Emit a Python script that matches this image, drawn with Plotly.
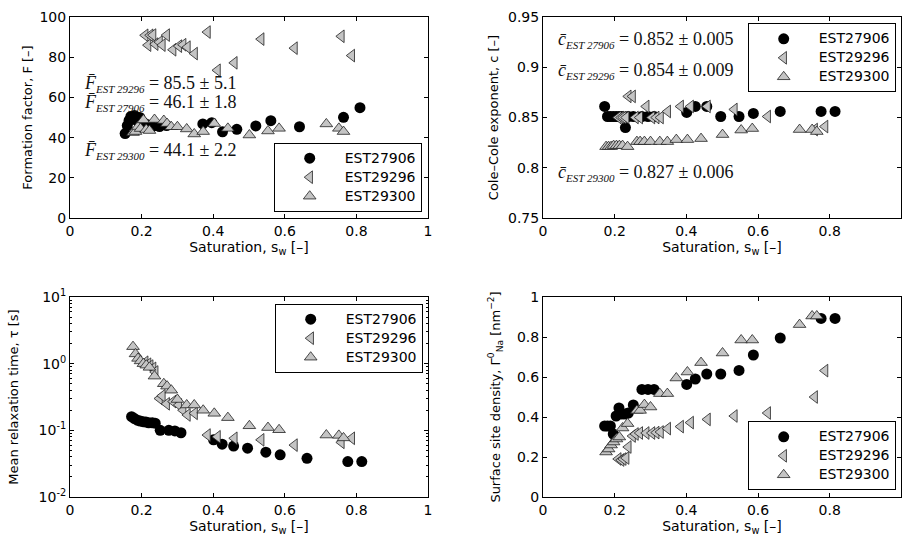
import plotly.graph_objects as go

# ---------------- data ----------------
names = ["EST27906", "EST29296", "EST29300"]

# saturation values (panels c, tau, Gamma)
sw_27906 = [0.172, 0.180, 0.188, 0.196, 0.204, 0.212, 0.220, 0.230, 0.238, 0.252, 0.276,
            0.293, 0.310, 0.401, 0.425, 0.457, 0.496, 0.547, 0.587, 0.662, 0.776, 0.815]
sw_29296 = [0.210, 0.218, 0.224, 0.232, 0.238, 0.250, 0.258, 0.270, 0.288, 0.304, 0.316,
            0.328, 0.348, 0.384, 0.412, 0.459, 0.534, 0.627, 0.758, 0.787]
sw_29300 = [0.176, 0.183, 0.190, 0.197, 0.205, 0.213, 0.222, 0.236, 0.262, 0.271, 0.283,
            0.300, 0.326, 0.347, 0.372, 0.403, 0.441, 0.501, 0.553, 0.584, 0.716, 0.751, 0.764]
# saturation of EST27906 in the formation-factor panel
swF_27906 = [0.154, 0.160, 0.165, 0.170, 0.175, 0.180, 0.187, 0.195, 0.205, 0.215, 0.230,
             0.250, 0.270, 0.371, 0.396, 0.426, 0.466, 0.519, 0.561, 0.641, 0.764, 0.810]

F_27906 = [42.0, 46.0, 48.5, 50.5, 49.5, 51.0, 48.5, 50.0, 47.5, 46.5, 45.5,
           45.5, 46.0, 46.8, 47.4, 42.9, 44.1, 45.8, 48.4, 45.4, 50.1, 54.9]
F_29296 = [90.9, 86.0, 90.9, 91.0, 86.5, 87.5, 86.0, 91.0, 83.7, 85.5, 86.2,
           85.0, 81.8, 92.5, 73.5, 77.2, 89.0, 84.5, 90.4, 80.8]
F_29300 = [42.5, 43.0, 45.5, 44.5, 48.8, 44.0, 43.5, 49.0, 48.5, 47.0, 45.4,
           45.4, 44.3, 41.8, 43.0, 47.0, 44.6, 41.3, 43.3, 44.6, 46.8, 44.6, 43.0]

c_27906 = [0.861, 0.851, 0.851, 0.851, 0.851, 0.851, 0.851, 0.840, 0.851, 0.851, 0.851,
           0.851, 0.851, 0.855, 0.861, 0.861, 0.851, 0.851, 0.854, 0.856, 0.856, 0.856]
c_29296 = [0.850, 0.850, 0.850, 0.850, 0.871, 0.871, 0.850, 0.850, 0.861, 0.850, 0.850,
           0.850, 0.856, 0.861, 0.861, 0.861, 0.858, 0.851, 0.838, 0.841]
c_29300 = [0.821, 0.821, 0.821, 0.822, 0.822, 0.822, 0.822, 0.821, 0.826, 0.826, 0.826,
           0.826, 0.826, 0.826, 0.828, 0.828, 0.829, 0.833, 0.8375, 0.839, 0.838, 0.838, 0.836]

tau_27906 = [0.160, 0.150, 0.142, 0.138, 0.135, 0.133, 0.130, 0.130, 0.128, 0.100, 0.100,
             0.098, 0.092, 0.072, 0.062, 0.058, 0.054, 0.047, 0.043, 0.038, 0.034, 0.034]
tau_29296 = [1.05, 0.98, 0.92, 0.85, 0.75, 0.30, 0.33, 0.25, 0.27, 0.24, 0.20,
             0.17, 0.18, 0.085, 0.080, 0.076, 0.072, 0.060, 0.066, 0.076]
tau_29300 = [1.80, 1.40, 1.20, 1.10, 1.00, 0.95, 0.88, 0.65, 0.50, 0.46, 0.40,
             0.29, 0.24, 0.24, 0.20, 0.18, 0.155, 0.117, 0.110, 0.102, 0.085, 0.084, 0.077]

G_27906 = [0.355, 0.355, 0.355, 0.315, 0.405, 0.445, 0.415, 0.415, 0.420, 0.460, 0.538,
           0.538, 0.538, 0.563, 0.590, 0.615, 0.615, 0.633, 0.710, 0.795, 0.893, 0.893]
G_29296 = [0.190, 0.185, 0.190, 0.195, 0.250, 0.305, 0.315, 0.320, 0.320, 0.320, 0.322,
           0.325, 0.342, 0.352, 0.372, 0.388, 0.405, 0.420, 0.500, 0.632]
G_29300 = [0.225, 0.240, 0.260, 0.275, 0.290, 0.300, 0.345, 0.367, 0.433, 0.433, 0.462,
           0.450, 0.517, 0.517, 0.595, 0.625, 0.672, 0.720, 0.785, 0.785, 0.862, 0.905, 0.905]

F_labels = [("F", "EST 29296", "85.5 ± 5.1"), ("F", "EST 27906", "46.1 ± 1.8"),
            ("F", "EST 29300", "44.1 ± 2.2")]
c_labels = [("c", "EST 27906", "0.852 ± 0.005"), ("c", "EST 29296", "0.854 ± 0.009"),
            ("c", "EST 29300", "0.827 ± 0.006")]

# ---------------- figure ----------------
W, H = 908, 544
def dxr(a, b): return [a / W, b / W]
def dyr(top, bot): return [1 - bot / H, 1 - top / H]

GRAY = "#c4c4c4"
styles = [dict(symbol="circle", color="black", line=dict(width=0, color="black"), size=11),
          dict(symbol="triangle-left", color=GRAY, line=dict(width=0.8, color="#222"), size=11),
          dict(symbol="triangle-up", color=GRAY, line=dict(width=0.8, color="#222"), size=11)]

panels = [
    ([swF_27906, sw_29296, sw_29300], [F_27906, F_29296, F_29300]),
    ([sw_27906, sw_29296, sw_29300], [c_27906, c_29296, c_29300]),
    ([sw_27906, sw_29296, sw_29300], [tau_27906, tau_29296, tau_29300]),
    ([sw_27906, sw_29296, sw_29300], [G_27906, G_29296, G_29300]),
]

FONT = "DejaVu Sans, Verdana, sans-serif"
fig = go.Figure()
for p, (xs, ys) in enumerate(panels, start=1):
    leg = "legend" if p == 1 else f"legend{p}"
    for i in range(3):
        fig.add_trace(go.Scatter(
            x=xs[i], y=ys[i], mode="markers",
            name=f"<span style='font-size:14px'>{names[i]}</span>",
            marker=styles[i], xaxis=f"x{p}", yaxis=f"y{p}", legend=leg,
        ))

tickfont = dict(family=FONT, size=14, color="black")
common = dict(showline=True, linecolor="black", linewidth=1, mirror="ticks",
              ticks="inside", ticklen=4, tickcolor="black", showgrid=False,
              zeroline=False, tickfont=tickfont, automargin=False)
xt = "Saturation, s<sub>w</sub> [–]"
xtitle = dict(text=xt, font=dict(family=FONT, size=14, color="black"), standoff=4)

def ytitle(t, s):
    return dict(text=t, font=dict(family=FONT, size=13, color="black"), standoff=s)

D_L, D_R = dxr(70, 428), dxr(543, 901)
D_T, D_B = dyr(17, 218), dyr(297, 497)

fig.update_layout(
    width=W, height=H, margin=dict(l=0, r=0, t=0, b=0),
    paper_bgcolor="white", plot_bgcolor="white",
    xaxis=dict(domain=D_L, anchor="y", range=[0, 1], tickvals=[0, 0.2, 0.4, 0.6, 0.8, 1],
               ticktext=["0", "0.2", "0.4", "0.6", "0.8", "1"], title=xtitle, **common),
    yaxis=dict(domain=D_T, anchor="x", range=[0, 100], tickvals=[0, 20, 40, 60, 80, 100],
               title=ytitle("Formation factor, F [–]", 3), **common),
    xaxis2=dict(domain=D_R, anchor="y2", range=[0, 0.999], tickvals=[0, 0.2, 0.4, 0.6, 0.8],
                ticktext=["0", "0.2", "0.4", "0.6", "0.8"], title=xtitle, **common),
    yaxis2=dict(domain=D_T, anchor="x2", range=[0.75, 0.95],
                tickvals=[0.75, 0.8, 0.85, 0.9, 0.95],
                ticktext=["0.75", "0.8", "0.85", "0.9", "0.95"],
                title=ytitle("Cole–Cole exponent, c [–]", 6), **common),
    xaxis3=dict(domain=D_L, anchor="y3", range=[0, 1], tickvals=[0, 0.2, 0.4, 0.6, 0.8, 1],
                ticktext=["0", "0.2", "0.4", "0.6", "0.8", "1"], title=xtitle, **common),
    yaxis3=dict(domain=D_B, anchor="x3", type="log", range=[-2, 1],
                tickvals=[0.01, 0.1, 1, 10],
                ticktext=["10<sup>-2</sup>", "10<sup>-1</sup>", "10<sup>0</sup>", "10<sup>1</sup>"],
                minor=dict(ticks="inside", ticklen=2, tickcolor="black",
                           tickvals=[m * 10 ** e for e in (-2, -1, 0) for m in range(2, 10)]),
                title=ytitle("Mean relaxation time, τ [s]", 17), **common),
    xaxis4=dict(domain=D_R, anchor="y4", range=[0, 0.999], tickvals=[0, 0.2, 0.4, 0.6, 0.8],
                ticktext=["0", "0.2", "0.4", "0.6", "0.8"], title=xtitle, **common),
    yaxis4=dict(domain=D_B, anchor="x4", range=[0, 1], tickvals=[0, 0.2, 0.4, 0.6, 0.8, 1],
                ticktext=["0", "0.2", "0.4", "0.6", "0.8", "1"],
                title=ytitle("Surface site density, Γ<sup>0</sup><sub>Na</sub> [nm<sup>−2</sup>]", 13),
                **common),
)

legfont = dict(family=FONT, size=12, color="black")
def legend(x, y, ya):
    return dict(x=x, y=y, xanchor="right", yanchor=ya, xref="paper", yref="paper",
                bgcolor="white", bordercolor="black", borderwidth=1, font=legfont,
                itemwidth=60, tracegroupgap=0)

fig.update_layout(
    legend=legend(421.7 / W, 1 - 211.7 / H, "bottom"),
    legend2=legend(895.7 / W, 1 - 23.3 / H, "top"),
    legend3=legend(422.7 / W, 1 - 303.7 / H, "top"),
    legend4=legend(895.7 / W, 1 - 490.3 / H, "bottom"),
)

SERIF = "Liberation Serif, Times New Roman, serif"
def mathtext(sym, sub, val):
    return (f"<i>{sym}\u0304</i><sub><i><span style='font-size:11px'>{sub}</span></i></sub>"
            f" = {val}")

ann_pos_F = [(81.7, 83.5), (81.7, 102.5), (81.7, 151)]
ann_pos_c = [(555.7, 40), (555.7, 70.5), (555.7, 173)]
for (sym, sub, val), (px, py) in zip(F_labels + c_labels, ann_pos_F + ann_pos_c):
    fig.add_annotation(text=mathtext(sym, sub, val), x=px / W, y=1 - py / H,
                       xref="paper", yref="paper", xanchor="left", yanchor="middle",
                       showarrow=False, font=dict(family=SERIF, size=18, color="#111"))

fig.write_html("out.html", config={"displayModeBar": False},
               post_script="document.body.style.margin='0';document.body.style.padding='0';")
